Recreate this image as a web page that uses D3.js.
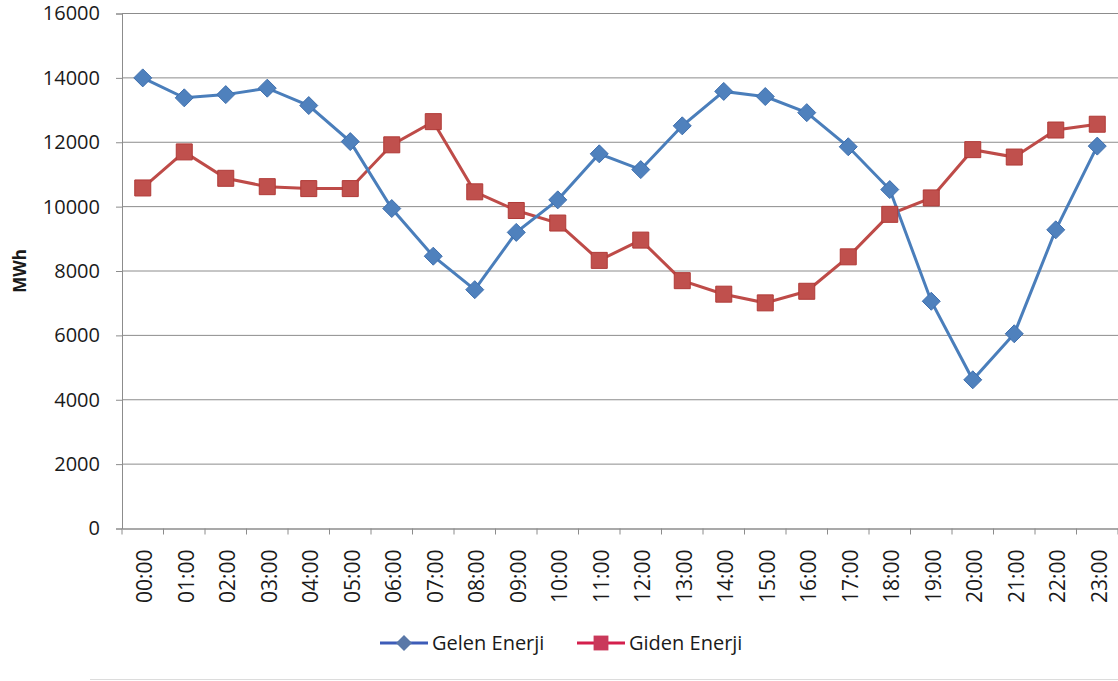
<!DOCTYPE html>
<html>
<head>
<meta charset="utf-8">
<script src="https://cdn.jsdelivr.net/npm/d3@7"></script>
<style>
    body { margin: 0; background: #fff; }
    text { font-family: "Open Sans", sans-serif; fill: #1a1a1a; }
</style>
</head>
<body>
<script>
const hours = ['00:00', '01:00', '02:00', '03:00', '04:00', '05:00', '06:00', '07:00',
    '08:00', '09:00', '10:00', '11:00', '12:00', '13:00', '14:00', '15:00',
    '16:00', '17:00', '18:00', '19:00', '20:00', '21:00', '22:00', '23:00'];

const gelen = [14000, 13380, 13480, 13680, 13140, 12020, 9940, 8460,
    7420, 9200, 10210, 11640, 11150, 12510, 13580, 13420,
    12920, 11860, 10530, 7060, 4620, 6050, 9280, 11880];

const giden = [10580, 11700, 10880, 10620, 10560, 10560, 11920, 12640,
    10460, 9880, 9490, 8330, 8960, 7700, 7280, 7010,
    7370, 8440, 9760, 10270, 11770, 11540, 12380, 12560];

const yTicks = [0, 2000, 4000, 6000, 8000, 10000, 12000, 14000, 16000];

document.addEventListener('DOMContentLoaded', function () {

    const w = 1118;
    const h = 681;

    let margin = { top: 13.5, right: 0, bottom: 152.5, left: 122 };
    const innerWidth = w - margin.left - margin.right;
    const innerHeight = h - margin.top - margin.bottom;

    const blueLine = '#4a7ebb', blueMark = '#4f81bd';
    const redLine = '#be4b48', redMark = '#c0504d';

    // diamond as a square turned 45 degrees (d3's own diamond is too tall)
    const diamondPath = r => `M0,${-r}L${r},0L0,${r}L${-r},0Z`;

    const svg = d3.select('body')
        .append('svg')
        .attr('width', w)
        .attr('height', h);

    const xScale = d3.scaleBand()
        .domain(hours)
        .range([0, innerWidth]);

    const yScale = d3.scaleLinear()
        .domain([0, 16000])
        .range([innerHeight, 0]);

    const g = svg.append('g')
        .attr('transform', `translate(${margin.left},${margin.top})`);

    // gridlines
    g.append('g')
        .selectAll('line')
        .data(yTicks.filter(d => d > 0))
        .enter()
        .append('line')
        .attr('x1', 0)
        .attr('x2', innerWidth)
        .attr('y1', d => yScale(d))
        .attr('y2', d => yScale(d))
        .attr('stroke', '#8c8c8c')
        .attr('stroke-width', 1);

    const yAxis = d3.axisLeft(yScale)
        .tickValues(yTicks)
        .tickFormat(d3.format('d'))
        .tickSize(6)
        .tickPadding(16);

    const yAxisG = g.append('g')
        .call(yAxis)
        .attr('id', 'y-axis');
    yAxisG.select('.domain').attr('stroke', '#8c8c8c');
    yAxisG.selectAll('.tick line').attr('stroke', '#8c8c8c');
    yAxisG.selectAll('.tick text')
        .style('font-size', '20px')
        .attr('fill', '#1a1a1a');

    const xAxis = d3.axisBottom(xScale)
        .tickSize(0)
        .tickPadding(0);

    const xAxisG = g.append('g')
        .call(xAxis)
        .attr('transform', `translate(0, ${innerHeight})`)
        .attr('id', 'x-axis');
    xAxisG.select('.domain').attr('stroke', '#8c8c8c').attr('stroke-width', 1.5);
    xAxisG.selectAll('.tick text')
        .style('font-size', '21px')
        .attr('fill', '#1a1a1a')
        .attr('text-anchor', 'end')
        .attr('transform', 'translate(2, 21) rotate(-90)')
        .attr('x', 0)
        .attr('y', 0)
        .attr('dy', '0.35em');

    // tick marks between categories
    xAxisG.append('g')
        .selectAll('line')
        .data(hours.concat(['end']))
        .enter()
        .append('line')
        .attr('x1', (d, i) => i * xScale.step())
        .attr('x2', (d, i) => i * xScale.step())
        .attr('y1', 0)
        .attr('y2', 6)
        .attr('stroke', '#8c8c8c');

    yAxisG.append('text')
        .attr('transform', `translate(${-102}, ${innerHeight / 2}) rotate(-90)`)
        .attr('text-anchor', 'middle')
        .attr('dy', '0.35em')
        .style('font-size', '17px')
        .style('font-weight', 'bold')
        .attr('fill', '#1a1a1a')
        .text('MWh');

    const cx = d => xScale(d) + xScale.bandwidth() / 2;

    const line = d3.line()
        .x((d, i) => cx(hours[i]))
        .y(d => yScale(d));

    g.append('path')
        .datum(giden)
        .attr('d', line)
        .attr('fill', 'none')
        .attr('stroke', redLine)
        .attr('stroke-width', 3);

    g.append('path')
        .datum(gelen)
        .attr('d', line)
        .attr('fill', 'none')
        .attr('stroke', blueLine)
        .attr('stroke-width', 3);

    const square = d3.symbol().type(d3.symbolSquare).size(256);

    g.selectAll('.giden')
        .data(giden)
        .enter()
        .append('path')
        .attr('class', 'giden')
        .attr('d', square)
        .attr('transform', (d, i) => `translate(${cx(hours[i])},${yScale(d)})`)
        .attr('fill', redMark)
        .attr('stroke', '#b03a37')
        .attr('stroke-width', 1);

    g.selectAll('.gelen')
        .data(gelen)
        .enter()
        .append('path')
        .attr('class', 'gelen')
        .attr('d', diamondPath(9))
        .attr('transform', (d, i) => `translate(${cx(hours[i])},${yScale(d)})`)
        .attr('fill', blueMark)
        .attr('stroke', '#3f6fae')
        .attr('stroke-width', 1);

    // legend
    const legend = svg.append('g').attr('transform', 'translate(0, 643)');

    legend.append('line')
        .attr('x1', 380).attr('x2', 428)
        .attr('stroke', '#3d5cb8').attr('stroke-width', 3);
    legend.append('path')
        .attr('d', diamondPath(8))
        .attr('transform', 'translate(404,0)')
        .attr('fill', '#5a78a8');
    legend.append('text')
        .attr('x', 432)
        .attr('dy', '0.35em')
        .style('font-size', '20px')
        .text('Gelen Enerji');

    legend.append('line')
        .attr('x1', 577).attr('x2', 625)
        .attr('stroke', '#d41f4c').attr('stroke-width', 3);
    legend.append('path')
        .attr('d', d3.symbol().type(d3.symbolSquare).size(220))
        .attr('transform', 'translate(601,0)')
        .attr('fill', '#c9395a');
    legend.append('text')
        .attr('x', 629)
        .attr('dy', '0.35em')
        .style('font-size', '20px')
        .text('Giden Enerji');

    svg.append('line')
        .attr('x1', 90).attr('x2', w)
        .attr('y1', 679.5).attr('y2', 679.5)
        .attr('stroke', '#dcdcdc');
});
</script>
</body>
</html>
